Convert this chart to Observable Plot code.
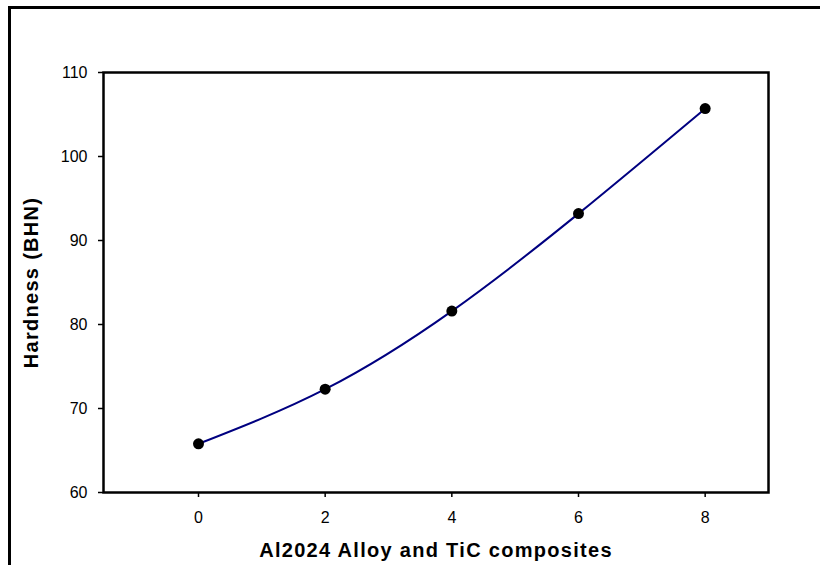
<!DOCTYPE html>
<html>
<head>
<meta charset="utf-8">
<script src="https://cdn.jsdelivr.net/npm/d3@7"></script>
<script src="https://cdn.jsdelivr.net/npm/@observablehq/plot@0.6"></script>
<style>
  html, body { margin: 0; padding: 0; background: #fff; overflow: hidden; }
  #wrap { position: relative; width: 820px; height: 565px; overflow: hidden; }
  #border { position: absolute; left: 8px; top: 6px; width: 840px; height: 620px; border: 3px solid #000; box-sizing: border-box; pointer-events: none; }
  #chart { position: absolute; left: 0; top: 0; }
  .title-text text { letter-spacing: 1.3px; }
</style>
</head>
<body>
<div id="wrap">
  <div id="chart"></div>
  <div id="border"></div>
</div>
<script>
const tic = [0, 2, 4, 6, 8];
const hardness = [65.8, 72.3, 81.6, 93.2, 105.7];
const xTicks = [0, 2, 4, 6, 8];
const yTicks = [60, 70, 80, 90, 100, 110];
const xTitle = "Al2024 Alloy and TiC composites";
const yTitle = "Hardness (BHN)";

const data = tic.map((t, i) => ({x: t, y: hardness[i]}));

const chart = Plot.plot({
  width: 820,
  height: 565,
  marginLeft: 103,
  marginRight: 52,
  marginTop: 72,
  marginBottom: 73,
  style: {fontFamily: "'Liberation Sans', Arial, sans-serif", fontSize: "16px", color: "#000", background: "transparent"},
  x: {domain: [-1.5, 9]},
  y: {domain: [60, 110]},
  marks: [
    Plot.axisX(xTicks, {tickSize: 5, tickPadding: 14, fontSize: 16, label: null, stroke: "#000", strokeWidth: 1.5}),
    Plot.axisY(yTicks, {tickSize: 5, tickPadding: 11, fontSize: 16, label: null, stroke: "#000", strokeWidth: 1.5}),
    Plot.frame({stroke: "#000", strokeWidth: 2.5}),
    Plot.line(data, {x: "x", y: "y", curve: "natural", stroke: "#000080", strokeWidth: 2}),
    Plot.dot(data, {x: "x", y: "y", r: 5.5, fill: "#000", stroke: "none"}),
    Plot.text([xTitle], {frameAnchor: "bottom", dy: 64, fontWeight: "bold", fontSize: 20, fill: "#000", className: "title-text"}),
    Plot.text([yTitle], {frameAnchor: "left", dx: -72, rotate: -90, textAnchor: "middle", fontWeight: "bold", fontSize: 20, fill: "#000", className: "title-text"})
  ]
});
document.getElementById("chart").appendChild(chart);
</script>
</body>
</html>
